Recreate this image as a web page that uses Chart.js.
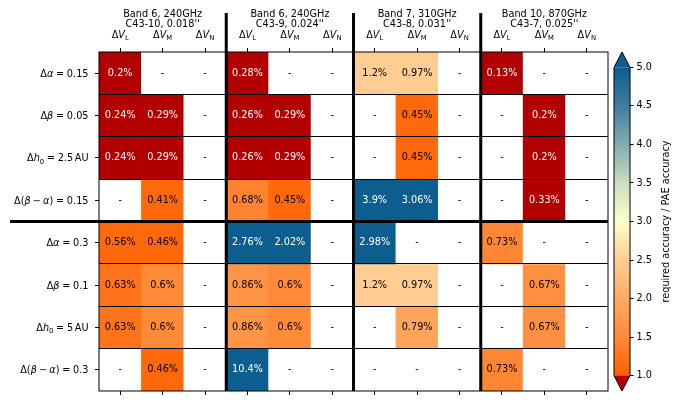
<!DOCTYPE html>
<html><head><meta charset="utf-8">
<script src="https://cdn.jsdelivr.net/npm/chart.js@4/dist/chart.umd.min.js"></script>
<style>html,body{margin:0;padding:0;background:#fff}#wrap{width:679px;height:407px}</style>
</head><body><div id="wrap"><canvas id="c" width="679" height="407"></canvas></div>
<script>
// ---------- data ----------
const groupTitles = [
  ["Band 6, 240GHz", "C43-10, 0.018''"],
  ["Band 6, 240GHz", "C43-9, 0.024''"],
  ["Band 7, 310GHz", "C43-8, 0.031''"],
  ["Band 10, 870GHz", "C43-7, 0.025''"]
];
const velocitySubs = ["L", "M", "N"];
const columns = ["B6a-L","B6a-M","B6a-N","B6b-L","B6b-M","B6b-N","B7-L","B7-M","B7-N","B10-L","B10-M","B10-N"];
// math-style row labels: it = italic, sub = subscript, sp = math space (em)
const rowLabels = [
  [{t:"Δ"},{t:"α",it:1},{sp:0.2778},{t:"="},{sp:0.2778},{t:"0.15"}],
  [{t:"Δ"},{t:"β",it:1},{sp:0.2778},{t:"="},{sp:0.2778},{t:"0.05"}],
  [{t:"Δ"},{t:"h",it:1},{t:"0",sub:1},{sp:0.2778},{t:"="},{sp:0.2778},{t:"2.5"},{sp:0.1667},{t:"AU"}],
  [{t:"Δ("},{t:"β",it:1},{sp:0.2222},{t:"−"},{sp:0.2222},{t:"α",it:1},{t:")"},{sp:0.2778},{t:"="},{sp:0.2778},{t:"0.15"}],
  [{t:"Δ"},{t:"α",it:1},{sp:0.2778},{t:"="},{sp:0.2778},{t:"0.3"}],
  [{t:"Δ"},{t:"β",it:1},{sp:0.2778},{t:"="},{sp:0.2778},{t:"0.1"}],
  [{t:"Δ"},{t:"h",it:1},{t:"0",sub:1},{sp:0.2778},{t:"="},{sp:0.2778},{t:"5"},{sp:0.1667},{t:"AU"}],
  [{t:"Δ("},{t:"β",it:1},{sp:0.2222},{t:"−"},{sp:0.2222},{t:"α",it:1},{t:")"},{sp:0.2778},{t:"="},{sp:0.2778},{t:"0.3"}]
];
// accuracy shown in each cell (percent); null = "-"
const accuracyPct = [
  [0.2, null, null,  0.28, null, null,  1.2, 0.97, null,  0.13, null, null],
  [0.24, 0.29, null, 0.26, 0.29, null,  null, 0.45, null, null, 0.2, null],
  [0.24, 0.29, null, 0.26, 0.29, null,  null, 0.45, null, null, 0.2, null],
  [null, 0.41, null, 0.68, 0.45, null,  3.9, 3.06, null,  null, 0.33, null],
  [0.56, 0.46, null, 2.76, 2.02, null,  2.98, null, null, 0.73, null, null],
  [0.63, 0.6, null,  0.86, 0.6, null,   1.2, 0.97, null,  null, 0.67, null],
  [0.63, 0.6, null,  0.86, 0.6, null,   null, 0.79, null, null, 0.67, null],
  [null, 0.46, null, 10.4, null, null,  null, null, null, 0.73, null, null]
];
// colour value: required accuracy / PAE accuracy
const ratio = [
  [0.8, null, null,  0.8, null, null,  2.5, 2.5, null,  0.8, null, null],
  [0.8, 0.8, null,   0.8, 0.8, null,   null, 1.1, null, null, 0.8, null],
  [0.8, 0.8, null,   0.8, 0.8, null,   null, 1.1, null, null, 0.8, null],
  [null, 1.1, null,  1.42, 1.1, null,  5.5, 5.5, null,  null, 0.8, null],
  [1.1, 1.1, null,   5.5, 5.5, null,   5.5, null, null, 1.45, null, null],
  [1.24, 1.5, null,  1.65, 1.5, null,  2.5, 2.5, null,  null, 1.6, null],
  [1.24, 1.5, null,  1.65, 1.5, null,  null, 1.9, null, null, 1.6, null],
  [null, 1.1, null,  5.5, null, null,  null, null, null, 1.45, null, null]
];
const cbTicks = [1.0, 1.5, 2.0, 2.5, 3.0, 3.5, 4.0, 4.5, 5.0];
const cbTitle = "required accuracy / PAE accuracy";

// ---------- style ----------
const FONT = "DejaVu Sans";
const FS = 9.72;
const cmapStops = [
  [1.0, [255, 96, 0]], [1.5, [255, 138, 56]], [2.0, [255, 170, 100]], [2.5, [255, 205, 145]],
  [3.0, [255, 255, 204]], [3.5, [200, 222, 190]], [4.0, [130, 172, 175]], [4.5, [65, 125, 160]], [5.0, [11, 94, 142]]
];
const underColor = "rgb(178,0,0)", overColor = "rgb(11,94,142)";
const cbMin = 1 - 0.05 * 4, cbMax = 5 + 0.05 * 4;
function cmap(v) {
  if (v === null) return "#ffffff";
  if (v < 1) return underColor;
  if (v > 5) return overColor;
  for (let k = 0; k < cmapStops.length - 1; k++) {
    const [a, ca] = cmapStops[k], [b, cb] = cmapStops[k + 1];
    if (v >= a && v <= b) {
      const f = (v - a) / (b - a);
      const c = ca.map((x, i) => Math.round(x + (cb[i] - x) * f));
      return `rgb(${c[0]},${c[1]},${c[2]})`;
    }
  }
  return overColor;
}
function drawRich(ctx, segs, x, y, align, size) {
  const parts = segs.map(s => {
    if (s.sp !== undefined) return {s, gap: true, w: s.sp * size};
    const sz = s.sub ? size * 0.7 : size;
    const font = (s.it ? "italic " : "") + sz + "px " + FONT;
    ctx.font = font;
    return {s, font, w: ctx.measureText(s.t).width};
  });
  const total = parts.reduce((a, p) => a + p.w, 0);
  let cx = align === "right" ? x - total : align === "center" ? x - total / 2 : x;
  ctx.textAlign = "left";
  ctx.textBaseline = "alphabetic";
  for (const p of parts) {
    if (!p.gap) {
      ctx.font = p.font;
      ctx.fillText(p.s.t, cx, y + (p.s.sub ? size * 0.22 : 0));
    }
    cx += p.w;
  }
}

const decor = {
  id: "decor",
  afterDraw(chart) {
    const ctx = chart.ctx, ca = chart.chartArea;
    const xs = chart.scales.x, ys = chart.scales.y, cbs = chart.scales.cb;
    ctx.save();
    // cell texts
    chart.data.datasets.forEach((ds, i) => {
      chart.getDatasetMeta(i).data.forEach((el, j) => {
        const c = el.getCenterPoint();
        const v = accuracyPct[i][j], r = ratio[i][j];
        ctx.font = FS + "px " + FONT;
        ctx.textAlign = "center"; ctx.textBaseline = "middle";
        ctx.fillStyle = (r !== null && (r < 1 || r > 5)) ? "#fff" : "#000";
        ctx.fillText(v === null ? "-" : v + "%", c.x, c.y);
      });
    });
    ctx.fillStyle = "#000";
    // frame
    ctx.strokeStyle = "#000"; ctx.lineWidth = 1;
    ctx.strokeRect(ca.left, ca.top, ca.right - ca.left, ca.bottom - ca.top);
    // thick separators
    ctx.lineWidth = 3;
    for (let g = 1; g < groupTitles.length; g++) {
      const xp = (xs.getPixelForValue(g * 3 - 1) + xs.getPixelForValue(g * 3)) / 2;
      ctx.beginPath(); ctx.moveTo(xp, 13); ctx.lineTo(xp, ca.bottom); ctx.stroke();
    }
    const yp = ys.getPixelForValue(4);
    ctx.beginPath(); ctx.moveTo(10, yp); ctx.lineTo(ca.right, yp); ctx.stroke();
    // column labels
    columns.forEach((c, j) => {
      const xp = xs.getPixelForValue(j);
      drawRich(ctx, [{t:"Δ"},{t:"V",it:1},{t:velocitySubs[j % 3],sub:1}], xp, 38, "center", FS);
    });
    // group titles
    groupTitles.forEach((lines, g) => {
      const xp = (xs.getPixelForValue(g * 3) + xs.getPixelForValue(g * 3 + 2)) / 2;
      ctx.font = FS + "px " + FONT; ctx.textAlign = "center"; ctx.textBaseline = "alphabetic";
      ctx.fillText(lines[0], xp, 16.7);
      ctx.fillText(lines[1], xp, 26.7);
    });
    // row labels
    rowLabels.forEach((segs, i) => {
      drawRich(ctx, segs, ca.left - 10.5, ys.getPixelForValue(i + 0.5) + 3.5, "right", FS);
    });
    // colorbar
    const x1 = cbs.left - 16, x2 = cbs.left, xm = (x1 + x2) / 2;
    const p1 = cbs.getPixelForValue(1), p5 = cbs.getPixelForValue(5);
    const pmin = cbs.getPixelForValue(cbMin), pmax = cbs.getPixelForValue(cbMax);
    const grad = ctx.createLinearGradient(0, p1, 0, p5);
    cmapStops.forEach(([v, c]) => grad.addColorStop((v - 1) / 4, `rgb(${c[0]},${c[1]},${c[2]})`));
    ctx.fillStyle = grad; ctx.fillRect(x1, p5, x2 - x1, p1 - p5);
    ctx.fillStyle = overColor;
    ctx.beginPath(); ctx.moveTo(x1, p5); ctx.lineTo(xm, pmax); ctx.lineTo(x2, p5); ctx.closePath(); ctx.fill();
    ctx.fillStyle = underColor;
    ctx.beginPath(); ctx.moveTo(x1, p1); ctx.lineTo(xm, pmin); ctx.lineTo(x2, p1); ctx.closePath(); ctx.fill();
    ctx.strokeStyle = "#000"; ctx.lineWidth = 1;
    ctx.beginPath(); ctx.moveTo(x1, p5); ctx.lineTo(xm, pmax); ctx.lineTo(x2, p5); ctx.lineTo(x2, p1);
    ctx.lineTo(xm, pmin); ctx.lineTo(x1, p1); ctx.closePath(); ctx.stroke();
    // colorbar title
    ctx.fillStyle = "#000";
    ctx.translate(666, (p1 + p5) / 2); ctx.rotate(-Math.PI / 2);
    ctx.font = FS + "px " + FONT; ctx.textAlign = "center"; ctx.textBaseline = "middle";
    ctx.fillText(cbTitle, 0, 0);
    ctx.restore();
  }
};

const tickGrid = {drawOnChartArea: false, drawTicks: true, tickLength: 4, color: "#000", lineWidth: 1, offset: false};
new Chart(document.getElementById("c"), {
  type: "bar",
  data: {
    labels: columns,
    datasets: rowLabels.map((_, i) => ({
      data: columns.map(() => [i, i + 1]),
      backgroundColor: ratio[i].map(cmap),
      borderWidth: 0,
      grouped: false,
      categoryPercentage: 1,
      barPercentage: 1
    }))
  },
  options: {
    responsive: false, animation: false, events: [],
    layout: {padding: 0},
    plugins: {legend: {display: false}, tooltip: {enabled: false}},
    scales: {
      x: {type: "category", position: "top", offset: true, grid: tickGrid, border: {display: false},
          ticks: {display: false}, afterFit: s => { s.height = 52; }},
      x2: {type: "category", labels: columns, position: "bottom", offset: true, grid: tickGrid, border: {display: false},
          ticks: {display: false}, afterFit: s => { s.height = 16; }},
      y: {type: "linear", position: "left", min: 0, max: 8, reverse: true, weight: 1,
          afterBuildTicks: s => { s.ticks = rowLabels.map((_, i) => ({value: i + 0.5})); },
          grid: tickGrid, border: {display: false}, ticks: {display: false}, afterFit: s => { s.width = 99; }},
      yg: {type: "linear", position: "left", min: 0, max: 8, reverse: true, weight: 0,
          afterBuildTicks: s => { s.ticks = [1, 2, 3, 5, 6, 7].map(v => ({value: v})); },
          grid: {drawOnChartArea: true, drawTicks: false, color: "#000", lineWidth: 1, z: 1},
          border: {display: false}, ticks: {display: false}, afterFit: s => { s.width = 0; }},
      sp: {type: "linear", position: "right", weight: 0, min: 0, max: 1,
          grid: {display: false}, border: {display: false}, ticks: {display: false}, afterFit: s => { s.width = 22; }},
      cb: {type: "linear", position: "right", weight: 1, min: cbMin, max: cbMax,
          afterBuildTicks: s => { s.ticks = cbTicks.map(v => ({value: v})); },
          ticks: {color: "#000", font: {family: FONT, size: FS}, padding: 3, callback: v => Number(v).toFixed(1)},
          grid: {drawOnChartArea: false, drawTicks: true, tickLength: 3.5, color: "#000"},
          border: {display: false}, afterFit: s => { s.width = 49; }}
    }
  },
  plugins: [decor]
});
</script></body></html>
